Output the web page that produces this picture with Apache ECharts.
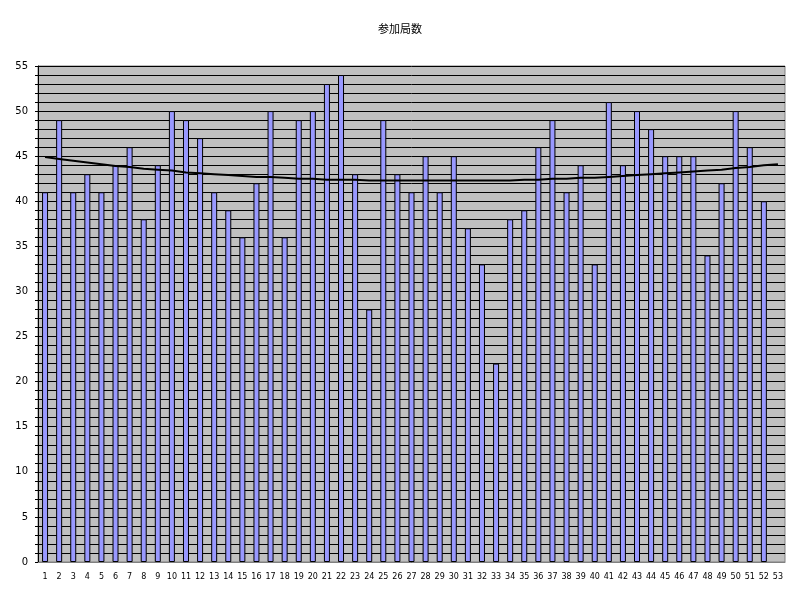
<!DOCTYPE html>
<html>
<head>
<meta charset="utf-8">
<script src="https://cdn.jsdelivr.net/npm/echarts@6/dist/echarts.min.js"></script>
<style>html,body{margin:0;padding:0;background:#fff}#c{width:800px;height:600px}</style>
</head>
<body>
<div id="c"></div>
<script>
var categories = [];
for (var i = 1; i <= 53; i++) categories.push(String(i));
var counts = [41,49,41,43,41,44,46,38,44,50,49,47,41,39,36,42,50,36,49,50,53,54,43,28,49,43,41,45,41,45,37,33,22,38,39,46,49,41,44,33,51,44,50,48,45,45,45,34,42,50,46,40];
var trend = [44.9,44.7,44.5,44.3,44.1,43.9,43.8,43.6,43.5,43.4,43.2,43.1,43.0,42.9,42.8,42.7,42.7,42.6,42.5,42.5,42.4,42.4,42.4,42.3,42.3,42.3,42.3,42.3,42.3,42.3,42.3,42.3,42.3,42.3,42.4,42.4,42.5,42.5,42.6,42.6,42.7,42.8,42.9,43.0,43.1,43.2,43.3,43.4,43.5,43.7,43.8,44.0,44.1];
var yTickLabels = ['0','5','10','15','20','25','30','35','40','45','50','55'];

var chart = echarts.init(document.getElementById('c'), null, {renderer:'canvas'});
chart.setOption({
  animation: false,
  backgroundColor: '#ffffff',
  title: {
    text: '参加局数', left: 'center', top: 18,
    textStyle: {fontSize: 11, fontWeight: 'normal', color: '#000', fontFamily: 'Noto Sans CJK JP'}
  },
  grid: {left: 38, right: 15, top: 66, bottom: 38, show: true, backgroundColor: '#c0c0c0', borderColor: '#808080', borderWidth: 1},
  xAxis: {
    type: 'category', data: categories, boundaryGap: true,
    axisLine: {lineStyle: {color: '#808080', width: 1}},
    axisTick: {show: false},
    axisLabel: {interval: 0, fontSize: 8, color: '#000', margin: 11, fontFamily: 'DejaVu Sans'}
  },
  yAxis: {
    type: 'value', min: 0, max: 55, interval: 1,
    axisLine: {show: true, lineStyle: {color: '#000', width: 1}},
    axisTick: {show: true, length: 3, lineStyle: {color: '#000'}},
    splitLine: {show: true, lineStyle: {color: '#000', width: 1}},
    axisLabel: {
      fontSize: 10, color: '#000', margin: 10, fontFamily: 'DejaVu Sans',
      formatter: function (v) { return (v % 5 === 0) ? yTickLabels[v / 5] : ''; }
    }
  },
  series: [
    {
      type: 'bar', data: counts, barWidth: 6,
      itemStyle: {color: '#9999ff', borderColor: '#000', borderWidth: 1}
    },
    {
      type: 'line', data: trend, symbol: 'none', smooth: false,
      lineStyle: {color: '#000', width: 2}, z: 5
    }
  ]
});
</script>
</body>
</html>
